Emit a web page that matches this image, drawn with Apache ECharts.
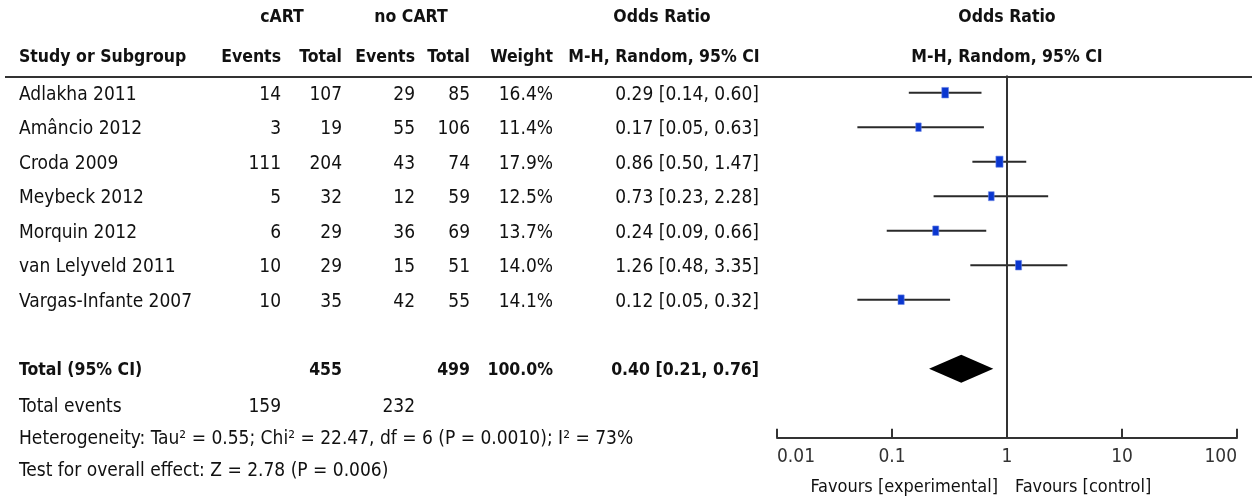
<!DOCTYPE html>
<html>
<head>
<meta charset="utf-8">
<title>cART vs no CART - forest plot</title>
<script src="https://cdn.jsdelivr.net/npm/echarts@6.0.0/dist/echarts.min.js"></script>
<style>
    html, body { margin: 0; padding: 0; background: #fff; }
    #forest { width: 1258px; height: 502px; }
</style>
</head>
<body>
<div id="forest"></div>
<script>
    // study data
    const studies = ['Adlakha 2011', 'Amâncio 2012', 'Croda 2009', 'Meybeck 2012', 'Morquin 2012', 'van Lelyveld 2011', 'Vargas-Infante 2007'];
    const cartEvents = [14, 3, 111, 5, 6, 10, 10];
    const cartTotal = [107, 19, 204, 32, 29, 29, 35];
    const noCartEvents = [29, 55, 43, 12, 36, 15, 42];
    const noCartTotal = [85, 106, 74, 59, 69, 51, 55];
    const weights = [16.4, 11.4, 17.9, 12.5, 13.7, 14.0, 14.1];
    const oddsRatio = [0.29, 0.17, 0.86, 0.73, 0.24, 1.26, 0.12];
    const ciLow = [0.14, 0.05, 0.50, 0.23, 0.09, 0.48, 0.05];
    const ciHigh = [0.60, 0.63, 1.47, 2.28, 0.66, 3.35, 0.32];
    // pooled result: [OR, low, high]
    const pooled = [0.40, 0.21, 0.76];
    const totalN = [455, 499];
    const totalEvents = [159, 232];
    const axisTicks = [0.01, 0.1, 1, 10, 100];
    const heterogeneity = 'Heterogeneity: Tau² = 0.55; Chi² = 22.47, df = 6 (P = 0.0010); I² = 73%';
    const overallEffect = 'Test for overall effect: Z = 2.78 (P = 0.006)';

    const FONT = '"DejaVu Sans Condensed", sans-serif';
    const FS = 19;         // body text
    const FS_BOLD = 17.5;  // headers and total row
    const TEXT_DY = 2;
    // rows (y units of both grids)
    const ROW_TOTAL = 8, ROW_EVENTS = 9.05, ROW_HET = 9.98, ROW_TEST = 10.92;
    // column anchors of the table, px
    const col = { study: 19, cartEv: 281, cartTot: 342, ncEv: 415, ncTot: 470, weight: 553, or: 759 };

    const f2 = v => v.toFixed(2);
    const ciText = (o, l, h) => f2(o) + ' [' + f2(l) + ', ' + f2(h) + ']';

    // table cells: [x, row, text, align, bold]
    const cells = [];
    studies.forEach(function (s, i) {
        cells.push([col.study, i, s, 'left', false]);
        cells.push([col.cartEv, i, String(cartEvents[i]), 'right', false]);
        cells.push([col.cartTot, i, String(cartTotal[i]), 'right', false]);
        cells.push([col.ncEv, i, String(noCartEvents[i]), 'right', false]);
        cells.push([col.ncTot, i, String(noCartTotal[i]), 'right', false]);
        cells.push([col.weight, i, weights[i].toFixed(1) + '%', 'right', false]);
        cells.push([col.or, i, ciText(oddsRatio[i], ciLow[i], ciHigh[i]), 'right', false]);
    });
    const totalWeight = weights.reduce((a, b) => a + b, 0);
    cells.push([col.study, ROW_TOTAL, 'Total (95% CI)', 'left', true]);
    cells.push([col.cartTot, ROW_TOTAL, String(totalN[0]), 'right', true]);
    cells.push([col.ncTot, ROW_TOTAL, String(totalN[1]), 'right', true]);
    cells.push([col.weight, ROW_TOTAL, totalWeight.toFixed(1) + '%', 'right', true]);
    cells.push([col.or, ROW_TOTAL, ciText(pooled[0], pooled[1], pooled[2]), 'right', true]);
    cells.push([col.study, ROW_EVENTS, 'Total events', 'left', false]);
    cells.push([col.cartEv, ROW_EVENTS, String(totalEvents[0]), 'right', false]);
    cells.push([col.ncEv, ROW_EVENTS, String(totalEvents[1]), 'right', false]);
    cells.push([col.study, ROW_HET, heterogeneity, 'left', false]);
    cells.push([col.study, ROW_TEST, overallEffect, 'left', false]);

    // grid geometry: row r sits at 92.7 + 34.5 * r px
    const ROW_H = 34.5;
    const GTOP = 92.7 - 0.5 * ROW_H;
    const GH = 10.5 * ROW_H;

    function txt(x, y, text, align, bold, size) {
        return {
            type: 'text', x: x, y: y,
            style: {
                text: text, fill: '#111',
                fontFamily: FONT, fontSize: size || (bold ? FS_BOLD : FS), fontWeight: bold ? 'bold' : 'normal',
                align: align, verticalAlign: 'middle',
                textAlign: align, textVerticalAlign: 'middle'
            }
        };
    }

    const chart = echarts.init(document.getElementById('forest'));
    chart.setOption({
        animation: false,
        backgroundColor: '#fff',
        grid: [
            { left: 0, right: 0, top: GTOP, height: GH },
            { left: 777, width: 460, top: GTOP, height: GH }
        ],
        xAxis: [
            { gridIndex: 0, type: 'value', min: 0, max: 1258, show: false },
            {
                gridIndex: 1, type: 'log', logBase: 10, position: 'bottom',
                min: axisTicks[0], max: axisTicks[axisTicks.length - 1],
                axisLine: { show: true, onZero: false, lineStyle: { color: '#333', width: 2 } },
                axisTick: { show: true, inside: true, length: 9, lineStyle: { color: '#333', width: 2 } },
                axisLabel: {
                    color: '#333', fontFamily: FONT, fontSize: 19, margin: 10,
                    alignMinLabel: 'left', alignMaxLabel: 'right',
                    formatter: v => String(parseFloat(Number(v).toPrecision(2)))
                },
                splitLine: { show: false }
            }
        ],
        yAxis: [
            { gridIndex: 0, type: 'value', min: -0.5, max: 10, inverse: true, show: false },
            { gridIndex: 1, type: 'value', min: -0.5, max: 10, inverse: true, show: false }
        ],
        graphic: [
            // header
            txt(282, 17, 'cART', 'center', true),
            txt(411, 17, 'no CART', 'center', true),
            txt(662, 17, 'Odds Ratio', 'center', true),
            txt(1007, 17, 'Odds Ratio', 'center', true),
            txt(col.study, 57, 'Study or Subgroup', 'left', true),
            txt(col.cartEv, 57, 'Events', 'right', true),
            txt(col.cartTot, 57, 'Total', 'right', true),
            txt(col.ncEv, 57, 'Events', 'right', true),
            txt(col.ncTot, 57, 'Total', 'right', true),
            txt(col.weight, 57, 'Weight', 'right', true),
            txt(664, 57, 'M-H, Random, 95% CI', 'center', true),
            txt(1007, 57, 'M-H, Random, 95% CI', 'center', true),
            {
                type: 'line', shape: { x1: 5, y1: 77, x2: 1252, y2: 77 },
                style: { stroke: '#333', lineWidth: 2 }
            },
            txt(998, 487, 'Favours [experimental]', 'right', false, 18),
            txt(1015, 487, 'Favours [control]', 'left', false, 18)
        ],
        series: [
            {
                // table text
                type: 'custom', xAxisIndex: 0, yAxisIndex: 0, silent: true,
                data: cells.map(c => [c[0], c[1]]),
                renderItem: function (params, api) {
                    const c = cells[params.dataIndex];
                    const p = api.coord([c[0], c[1]]);
                    return txt(p[0], p[1] + TEXT_DY, c[2], c[3], c[4]);
                }
            },
            {
                // null line at OR = 1
                type: 'line', xAxisIndex: 1, yAxisIndex: 1, silent: true,
                data: [[1, -0.5], [1, 10]], symbol: 'none',
                lineStyle: { color: '#333', width: 2 }
            },
            {
                // study CIs with weighted boxes
                type: 'custom', xAxisIndex: 1, yAxisIndex: 1, silent: true,
                data: studies.map((s, i) => [oddsRatio[i], i, ciLow[i], ciHigh[i], weights[i]]),
                renderItem: function (params, api) {
                    const y = api.value(1);
                    const c = api.coord([api.value(0), y]);
                    const lo = api.coord([api.value(2), y]);
                    const hi = api.coord([api.value(3), y]);
                    const h = 4 + api.value(4) * 0.4;
                    const w = h * 0.64;
                    return {
                        type: 'group', children: [
                            { type: 'line', shape: { x1: lo[0], y1: lo[1], x2: hi[0], y2: hi[1] }, style: { stroke: '#2a2a2a', lineWidth: 2 } },
                            { type: 'rect', shape: { x: c[0] - w / 2, y: c[1] - h / 2, width: w, height: h }, style: { fill: '#0a36d0', stroke: '#6f8ae6', lineWidth: 0.6 } }
                        ]
                    };
                }
            },
            {
                // pooled diamond
                type: 'custom', xAxisIndex: 1, yAxisIndex: 1, silent: true,
                data: [[pooled[0], ROW_TOTAL, pooled[1], pooled[2]]],
                renderItem: function (params, api) {
                    const y = api.value(1);
                    const c = api.coord([api.value(0), y]);
                    const lo = api.coord([api.value(2), y]);
                    const hi = api.coord([api.value(3), y]);
                    const hh = 14;
                    return {
                        type: 'polygon',
                        shape: { points: [[lo[0], c[1]], [c[0], c[1] - hh], [hi[0], c[1]], [c[0], c[1] + hh]] },
                        style: { fill: '#000' }
                    };
                }
            }
        ]
    });
</script>
</body>
</html>
